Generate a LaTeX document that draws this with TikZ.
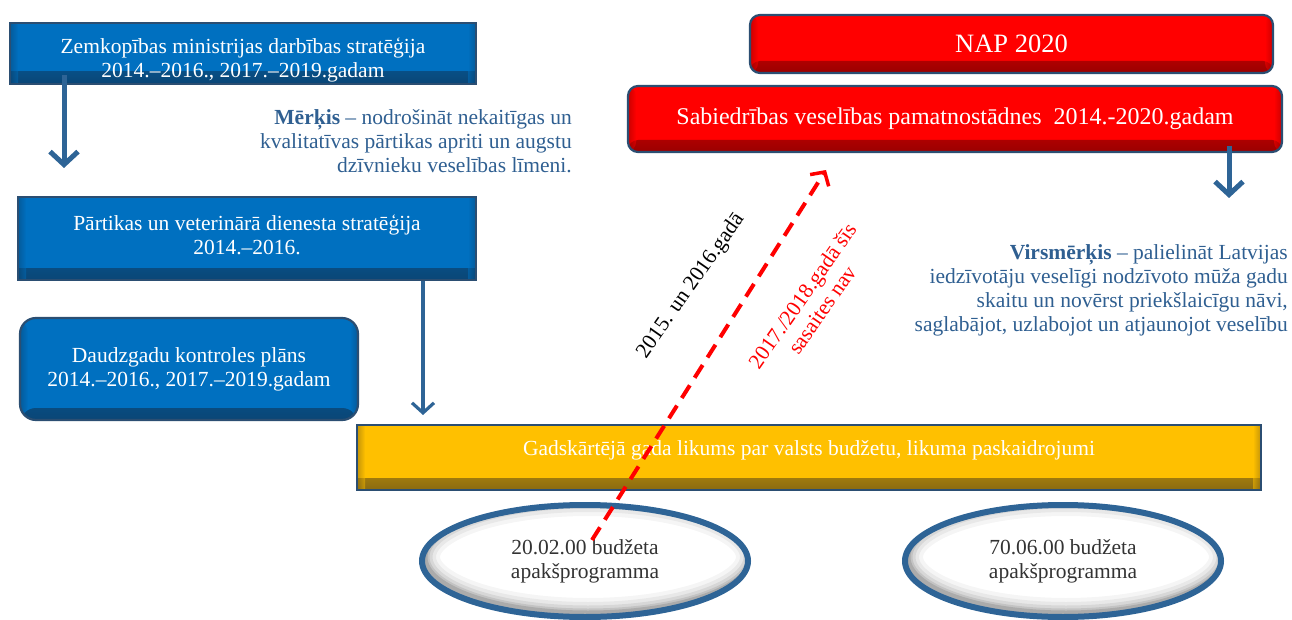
\documentclass[tikz,border=0pt]{standalone}
\usepackage{fontspec}
\setmainfont{Liberation Serif}
\usetikzlibrary{arrows.meta,shapes.geometric}
\definecolor{boxblue}{HTML}{0070C0}
\definecolor{boxblueD}{HTML}{0A4676}
\definecolor{edgeblue}{HTML}{1F4E79}
\definecolor{arrowblue}{HTML}{2E6496}
\definecolor{goaltxt}{HTML}{2F5F91}
\definecolor{napred}{HTML}{FF0000}
\definecolor{napredD}{HTML}{9A0000}
\definecolor{gold}{HTML}{FFC000}
\definecolor{goldD}{HTML}{8A6A10}
\definecolor{edgeslate}{HTML}{2B4E72}
\definecolor{elltxt}{HTML}{333333}
\tikzset{
  basefont/.style={font=\fontsize{21.5}{24}\selectfont},
  shadedbox/.style 2 args={draw=edgeslate, line width=2.2pt, fill=#1, text=white, align=center, inner sep=0pt, basefont,
    path picture={
      \shade[top color=#1, bottom color=#2] ([yshift=12pt]path picture bounding box.south west) rectangle (path picture bounding box.south east);
      \shade[left color=#2, right color=#1, opacity=0.5] (path picture bounding box.south west) rectangle ([xshift=8pt]path picture bounding box.north west);
      \shade[left color=#1, right color=#2, opacity=0.5] ([xshift=-8pt]path picture bounding box.south east) rectangle (path picture bounding box.north east);
    }},
  boxtext/.style={text=white, align=center, basefont, inner sep=0pt},
  bluearrow/.style={draw=arrowblue, line width=5pt, -{Straight Barb[length=13pt, width=28pt, line width=5pt]}},
  thinarrow/.style={draw=arrowblue, line width=3.2pt, -{Straight Barb[length=10pt, width=22pt, line width=3.2pt]}},
  budget/.style 2 args={ellipse, draw=arrowblue, line width=6pt, fill=white, text=elltxt, align=center, basefont, inner sep=0pt,
    minimum width=2*#1, minimum height=2*#2,
    path picture={
      \foreach \w/\o in {30/0.04,22/0.05,15/0.07,9/0.09,5/0.12}{
        \draw[black, opacity=\o, line width=\w pt] ([shift={(3pt,4pt)}]path picture bounding box.center) ellipse [x radius=#1, y radius=#2];
      }
    }},
  goal/.style={text=goaltxt, align=right, basefont, inner sep=0pt},
  diagtext/.style={basefont, align=center, inner sep=0pt, rotate=55},
}
\begin{document}
\begin{tikzpicture}[x=1pt,y=-1pt]
\useasboundingbox (0,0) rectangle (1292,620);

% left column
\node[shadedbox={boxblue}{boxblueD}, minimum width=466pt, minimum height=61pt] (box1) at (243,53.5) {};
\node[boxtext] (box1t) at (243,60) {Zemkopības ministrijas darbības stratēģija\\2014.–2016., 2017.–2019.gadam};

\node[shadedbox={boxblue}{boxblueD}, minimum width=458pt, minimum height=83pt] (box2) at (247,238.5) {};
\node[boxtext] (box2t) at (247,234.5) {Pārtikas un veterinārā dienesta stratēģija\\2014.–2016.};

\node[shadedbox={boxblue}{boxblueD}, rounded corners=16pt, minimum width=338pt, minimum height=102pt] (box3) at (189,369) {Daudzgadu kontroles plāns\\2014.–2016., 2017.–2019.gadam};

% goal text
\node[goal, anchor=east] (goal1) at (572,141) {\textbf{Mērķis} – nodrošināt nekaitīgas un\\kvalitatīvas pārtikas apriti un augstu\\dzīvnieku veselības līmeni.};

% right column
\node[shadedbox={napred}{napredD}, rounded corners=10pt, minimum width=523pt, minimum height=58pt, font=\fontsize{26.5}{30}\selectfont] (nap) at (1011.5,44) {NAP 2020};
\node[shadedbox={napred}{napredD}, rounded corners=10pt, minimum width=654pt, minimum height=66pt, font=\fontsize{24}{28}\selectfont] (sab) at (955,119) {Sabiedrības veselības pamatnostādnes\ \ 2014.-2020.gadam};

\node[goal, anchor=east] (goal2) at (1288,290.5) {\textbf{Virsmērķis} – palielināt Latvijas\\iedzīvotāju veselīgi nodzīvoto mūža gadu\\skaitu un novērst priekšlaicīgu nāvi,\\saglabājot, uzlabojot un atjaunojot veselību};

% budget law
\node[shadedbox={gold}{goldD}, minimum width=904pt, minimum height=65pt] (law) at (809,457.5) {};
\node[boxtext] (lawt) at (809,450) {Gadskārtējā gada likums par valsts budžetu, likuma paskaidrojumi};

% ellipses
\node[budget={163pt}{56pt}] (e1) at (585,561) {20.02.00 budžeta\\apakšprogramma};
\node[budget={158pt}{56pt}] (e2) at (1063,561) {70.06.00 budžeta\\apakšprogramma};

% arrows
\coordinate (a1s) at (64,75);
\coordinate (a1e) at (64,168);
\draw[bluearrow] (a1s) -- (a1e);
\coordinate (a2s) at (423,281);
\coordinate (a2e) at (423,415);
\draw[thinarrow] (a2s) -- (a2e);
\coordinate (a3s) at (1229,146);
\coordinate (a3e) at (1229,198);
\draw[bluearrow] (a3s) -- (a3e);

% red dashed link
\coordinate (rs) at (592,540);
\coordinate (re) at (826,170);
\draw[red, line width=4pt, dash pattern=on 15pt off 9pt, -{Straight Barb[length=10pt, width=22pt, line width=3.5pt]}] (rs) -- (re);

\node[diagtext] (t1516) at (691,286) {2015. un 2016.gadā};
\node[diagtext, text=red] (t1718) at (812,303) {2017./2018.gadā šīs\\sasaites nav};
\end{tikzpicture}
\end{document}
